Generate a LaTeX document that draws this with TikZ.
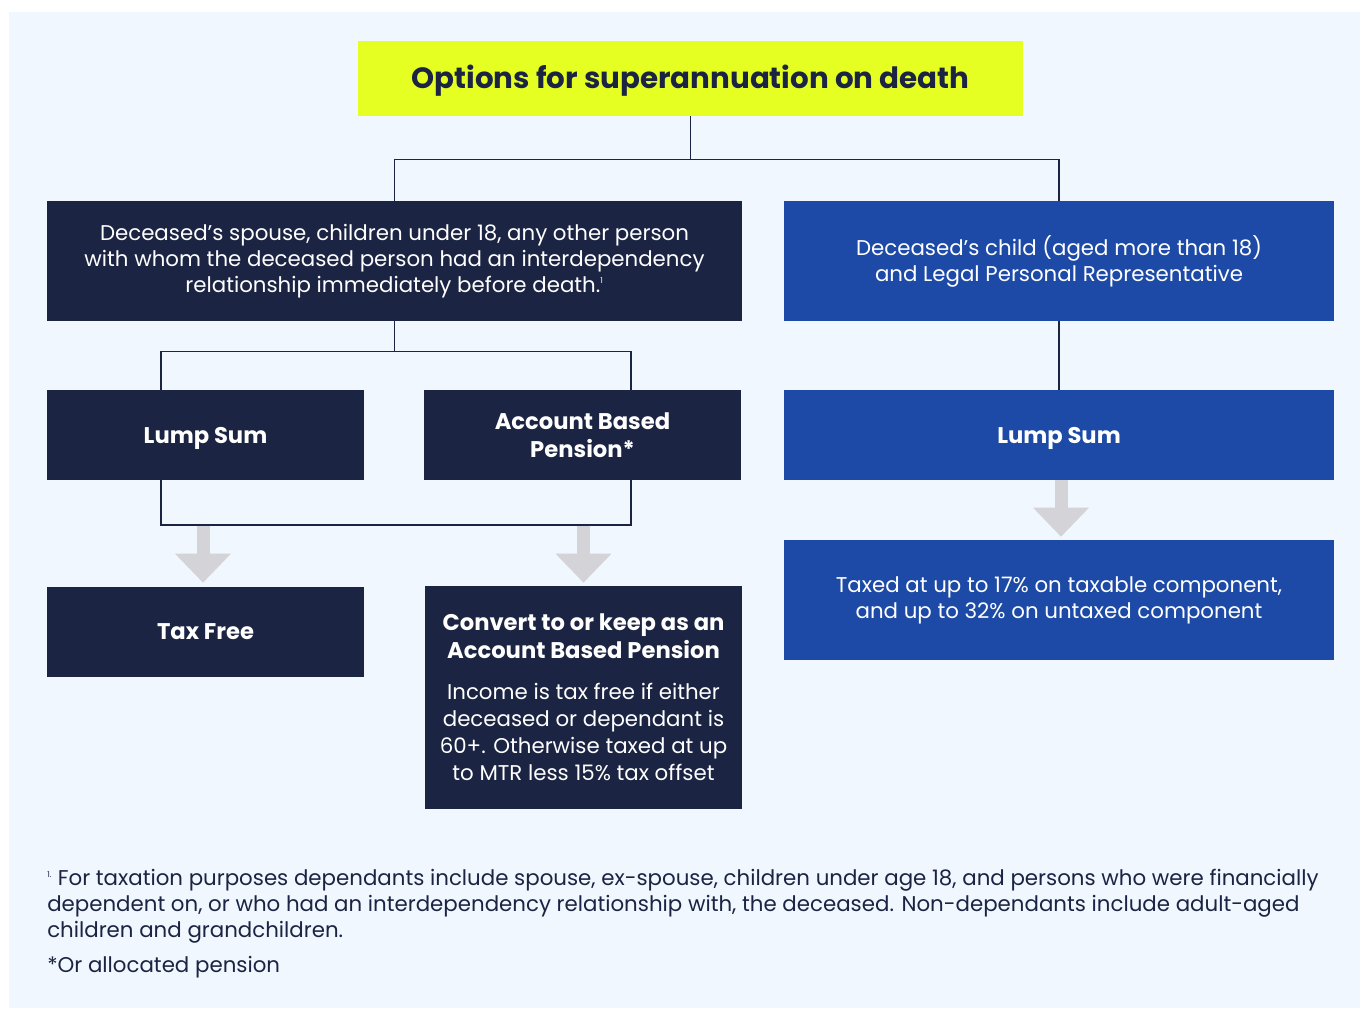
\documentclass[tikz,border=0pt]{standalone}
\usepackage{fontspec}
\setmainfont{Poppins}
\usetikzlibrary{arrows.meta, positioning, calc}
\definecolor{navy}{HTML}{1B2442}
\definecolor{royal}{HTML}{1D4AA6}
\definecolor{lime}{HTML}{E6FF23}
\definecolor{paleblue}{HTML}{F0F7FF}
\definecolor{arrowgray}{HTML}{D3D3D8}
\newcommand\headline[1]{{\fontsize{17}{21}\selectfont\bfseries #1}}

\begin{document}
\begin{tikzpicture}[
    x=0.75pt, y=-0.75pt,
    font=\fontsize{16}{19.5}\selectfont,
    box/.style={fill=#1, text=white, align=center, inner sep=0pt,
                minimum width=237.75pt, minimum height=67.5pt},
    box/.default=navy,
    head/.style={font=\fontsize{17}{21}\selectfont\bfseries},
    link/.style={draw=navy, line width=1.1pt},
    bigarrow/.style={draw=arrowgray, line width=9.75pt,
                     -{Triangle[width=40.5pt, length=21.75pt]}},
  ]
    \useasboundingbox (0,0) rectangle (1360,1008);
    \fill[paleblue] (9,12) rectangle (1360,1008);

    \node[fill=lime, text=navy, minimum width=498.75pt, minimum height=56.25pt,
          text depth=2pt, font=\fontsize{22}{24}\selectfont\bfseries] (title) at (690.5,78.5)
          {Options for superannuation on death};

    \node[box, minimum width=521.25pt, minimum height=90pt] (dep) at (394.5,261)
      {Deceased's spouse, children under 18, any other person\\
       with whom the deceased person had an interdependency\\
       relationship immediately before death.\textsuperscript{\fontsize{6}{6}\selectfont 1}};
    \node[box=royal, minimum width=412.5pt, minimum height=90pt] (nondep) at (1059,261)
      {Deceased's child (aged more than 18)\\
       and Legal Personal Representative};

    \node[box, head, text depth=0pt] (lump) at (205.5,435) {Lump Sum};
    \node[box, head] (abp) at (582.5,435) {Account Based\\ Pension*};
    \node[box=royal, head, text depth=0pt, minimum width=412.5pt] (lumpR) at (1059,435) {Lump Sum};

    \node[box, head, text depth=0pt] (free) at (205.5,632) {Tax Free};
    \node[box, minimum height=167.25pt] (convert) at (583.5,697.5)
      {\headline{Convert to or keep as an}\\[1.5pt]
       \headline{Account Based Pension}\\[11.25pt]
       Income is tax free if either\\[0.75pt]
       deceased or dependant is\\[0.75pt]
       60+. Otherwise taxed at up\\[0.75pt]
       to MTR less 15\% tax offset};
    \node[box=royal, minimum width=412.5pt, minimum height=90pt] (taxed) at (1059,600)
      {Taxed at up to 17\% on taxable component,\\
       and up to 32\% on untaxed component};

    % tree lines
    \coordinate (lsTop) at (161,390);
    \coordinate (abTop) at (631,390);
    \coordinate (lsBot) at (161,480);
    \coordinate (abBot) at (631,480);
    \draw[link] (title.south) -- ++(0,43) -| (dep.north);
    \draw[link] (title.south) ++(0,43) -| (nondep.north);
    \draw[link] (dep.south) -- ++(0,30) -| (lsTop);
    \draw[link] (dep.south) ++(0,30) -| (abTop);
    \draw[link] (nondep.south) -- (lumpR.north);
    \draw[link] (lsBot) -- ++(0,45) -| (abBot);

    % outcome arrows
    \draw[bigarrow] ($(free.north)+(-2.5,-61)$) -- ($(free.north)+(-2.5,-4)$);
    \draw[bigarrow] ($(convert.north)+(0,-60)$) -- ($(convert.north)+(0,-3)$);
    \draw[bigarrow] ($(lumpR.south)+(2,0)$) -- ($(taxed.north)+(2,-3)$);

    % notes
    \node[anchor=north west, align=left, text=navy, inner sep=0pt] (note) at (47,869)
      {\textsuperscript{\fontsize{6}{6}\selectfont 1.} For taxation purposes dependants include spouse, ex-spouse, children under age 18, and persons who were financially\\
       dependent on, or who had an interdependency relationship with, the deceased. Non-dependants include adult-aged\\
       children and grandchildren.};
    \node[anchor=base west, text=navy, inner sep=0pt] (star) at (47,972)
      {*Or allocated pension};
  \end{tikzpicture}
\end{document}
